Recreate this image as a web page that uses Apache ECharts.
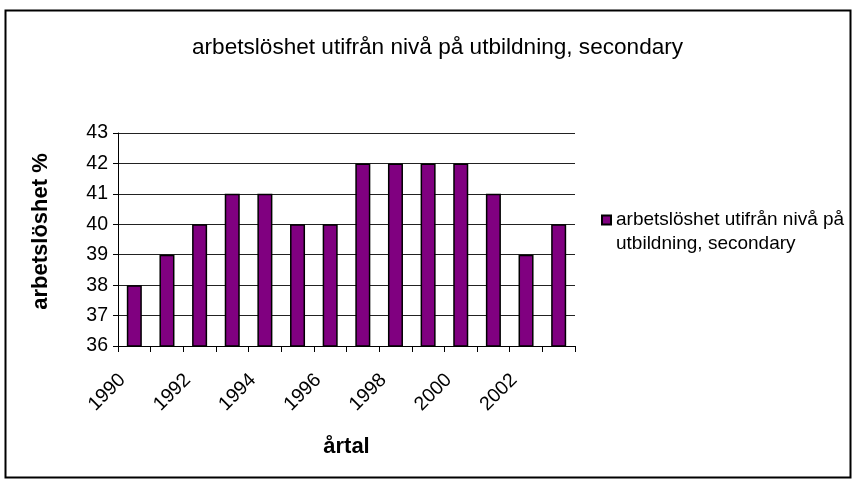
<!DOCTYPE html>
<html><head><meta charset="utf-8">
<script src="https://cdn.jsdelivr.net/npm/echarts@6/dist/echarts.min.js"></script>
<style>html,body{margin:0;padding:0;background:#fff}#c{width:856px;height:480px}</style>
</head><body><div id="c"></div>
<script>
const years = ['1990','1991','1992','1993','1994','1995','1996','1997','1998','1999','2000','2001','2002','2003'];
const values = [38,39,40,41,41,40,40,42,42,42,42,41,39,40];
const seriesName = 'arbetslöshet utifrån nivå på utbildning, secondary';
const legendText = 'arbetslöshet utifrån nivå på\nutbildning, secondary';
const titleText = 'arbetslöshet utifrån nivå på utbildning, secondary';
const yName = 'arbetslöshet %';
const xName = 'årtal';

const chart = echarts.init(document.getElementById('c'), null, {renderer:'canvas'});
const F = 'Liberation Sans, Arial, sans-serif';
chart.setOption({
  animation:false,
  backgroundColor:'#fff',
  graphic:[{type:'rect',shape:{x:5.5,y:10.5,width:845,height:467},style:{fill:'none',stroke:'#000',lineWidth:2},z:-1}],
  title:{text:titleText,left:187,top:31,textStyle:{fontFamily:F,fontSize:22.6,fontWeight:'normal',color:'#000'}},
  legend:{left:596,top:179,orient:'vertical',itemWidth:9,itemHeight:9,itemGap:5,
    formatter:()=>'\u00a0\n'+legendText,
    textStyle:{fontFamily:F,fontSize:19,color:'#000',lineHeight:24},
    data:[{name:seriesName,icon:'rect'}]},
  grid:{left:118,right:281,top:133,bottom:134,containLabel:false},
  xAxis:{type:'category',data:years,boundaryGap:true,
    name:xName,nameLocation:'middle',nameGap:90,
    nameTextStyle:{fontFamily:F,fontSize:22,fontWeight:'bold',color:'#000'},
    axisLine:{lineStyle:{color:'#000',width:1}},
    axisTick:{show:true,interval:0,length:6,lineStyle:{color:'#000'}},
    axisLabel:{interval:1,rotate:45,fontFamily:F,fontSize:19.5,color:'#000',margin:19,padding:[0,17,0,0]}},
  yAxis:{type:'value',min:36,max:43,interval:1,
    name:yName,nameLocation:'middle',nameGap:66,
    nameTextStyle:{fontFamily:F,fontSize:22,fontWeight:'bold',color:'#000',padding:[0,0,0,16]},
    axisLine:{show:true,lineStyle:{color:'#000'}},
    axisTick:{show:true,length:5,lineStyle:{color:'#000'}},
    axisLabel:{fontFamily:F,fontSize:19.5,color:'#000',margin:10},
    splitLine:{show:true,lineStyle:{color:'#222',width:1}}},
  series:[{type:'bar',name:seriesName,data:values,barWidth:'46%',
    itemStyle:{color:'#800080',borderColor:'#000',borderWidth:1.5}}]
});
</script></body></html>
